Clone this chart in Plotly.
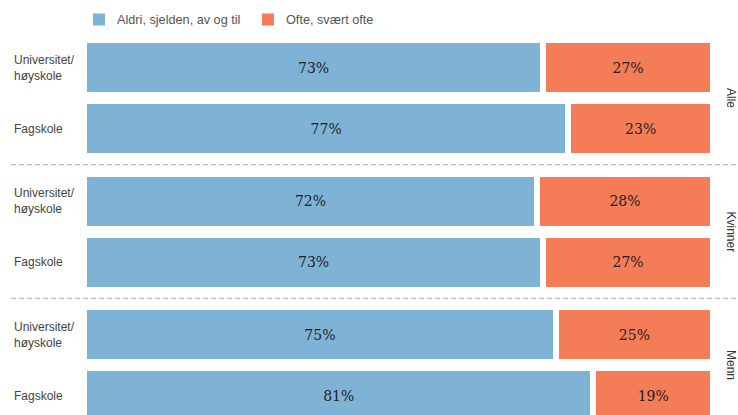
import plotly.graph_objects as go

groups = ["Alle", "Kvinner", "Menn"]
categories = ["Universitet/<br>høyskole", "Fagskole"]
aldri = [73, 77, 72, 73, 75, 81]
ofte = [27, 23, 28, 27, 25, 19]
series_names = ["Aldri, sjelden, av og til", "Ofte, svært ofte"]

BLUE = "#7fb3d6"
ORANGE = "#f47c57"
COLORS = [BLUE, ORANGE]

# layout geometry (pixel-based y axis)
L, R, W, H = 84, 25, 738, 415
def px_x(p):
    return (p - L) / (W - L - R)

ypos = []
ylab = []
for g in range(len(groups)):
    for r in range(len(categories)):
        ypos.append(67.5 + g * 133.5 + r * 61)
        ylab.append(categories[r])

fig = go.Figure()
for vals, name, col in zip([aldri, ofte], series_names, COLORS):
    fig.add_trace(go.Bar(
        x=vals, y=ypos, orientation="h", name=name,
        marker=dict(color=col, line=dict(color="white", width=6)),
        width=55, text=[f"{v}%" for v in vals], textposition="inside",
        insidetextanchor="middle", showlegend=False,
        textfont=dict(family="DejaVu Serif", size=14, color="#222"),
    ))

annotations = []
shapes = []
for y, lab in zip(ypos, ylab):
    annotations.append(dict(
        x=px_x(12), xref="paper", y=y, yref="y", text=lab, showarrow=False,
        xanchor="left", yanchor="middle", align="left",
        font=dict(family="Liberation Sans", size=12, color="#444"),
    ))
for g, name in enumerate(groups):
    yc = (ypos[2 * g] + ypos[2 * g + 1]) / 2
    annotations.append(dict(
        x=px_x(731), xref="paper", y=yc, yref="y", text=name, showarrow=False,
        xanchor="center", yanchor="middle", textangle=90,
        font=dict(family="Liberation Sans", size=12, color="#333"),
    ))
for g in range(1, len(groups)):
    ys = (ypos[2 * g - 1] + ypos[2 * g]) / 2
    shapes.append(dict(
        type="line", xref="paper", yref="y", x0=px_x(11), x1=px_x(738),
        y0=ys, y1=ys, line=dict(color="#aaa", width=1, dash="5px,3px"),
    ))

# custom legend (squares + labels)
legend_x = [93, 262]
for lx, name, col in zip(legend_x, series_names, COLORS):
    shapes.append(dict(
        type="rect", xref="paper", yref="y", x0=px_x(lx), x1=px_x(lx + 12),
        y0=13.5, y1=25.5, fillcolor=col, line=dict(width=0),
    ))
    annotations.append(dict(
        x=px_x(lx + 22), xref="paper", y=19.5, yref="y", text=name, showarrow=False,
        xanchor="left", yanchor="middle",
        font=dict(family="Liberation Sans", size=12.7, color="#555"),
    ))

fig.update_layout(
    width=W, height=H, barmode="stack",
    margin=dict(l=L, r=R, t=0, b=0, pad=0),
    plot_bgcolor="white", paper_bgcolor="white",
    xaxis=dict(range=[0, 100], visible=False, fixedrange=True),
    yaxis=dict(range=[H, 0], visible=False, fixedrange=True),
    showlegend=False,
    annotations=annotations, shapes=shapes,
)
fig.write_html("out.html")
